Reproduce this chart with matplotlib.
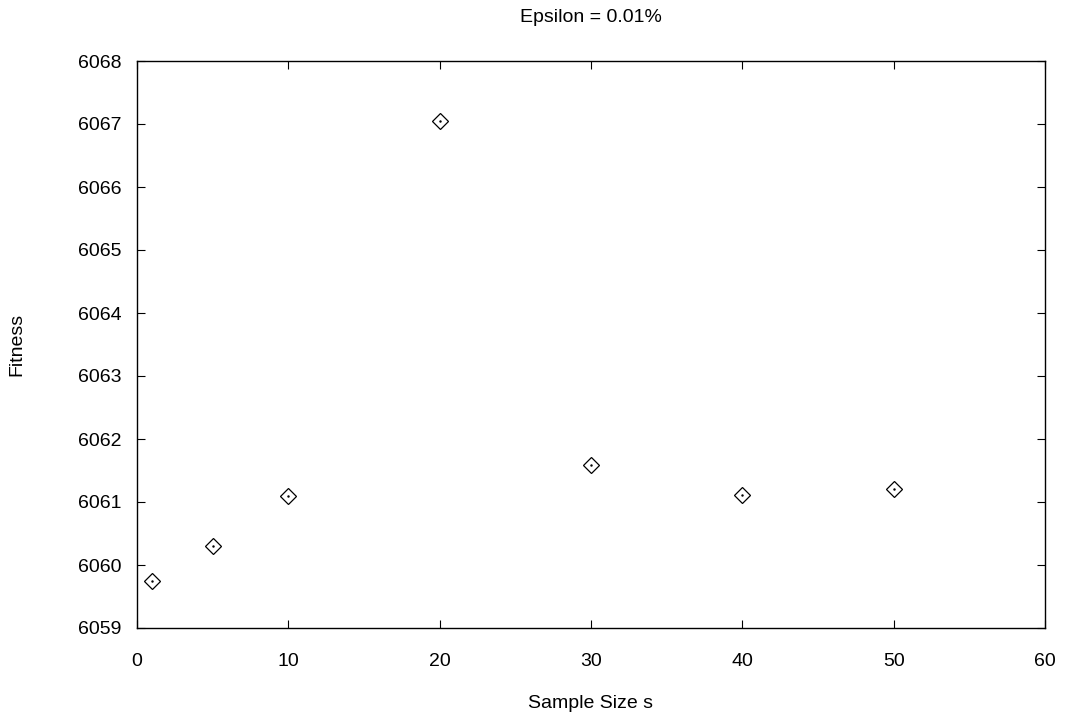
import matplotlib
matplotlib.use('Agg')
import matplotlib.pyplot as plt

plt.rcParams['font.family'] = ['Liberation Sans', 'DejaVu Sans']

sample_size = [1, 5, 10, 20, 30, 40, 50]
fitness = [6059.75, 6060.30, 6061.10, 6067.05, 6061.59, 6061.11, 6061.21]

dpi = 100
fig = plt.figure(figsize=(1066 / dpi, 720 / dpi), dpi=dpi)
ax = fig.add_axes([137 / 1066, 1 - 628 / 720, (1045 - 137) / 1066, (628 - 61) / 720])

ax.plot(sample_size, fitness, linestyle='none', marker='D', markersize=8.5,
        markerfacecolor='white', markeredgecolor='black', markeredgewidth=0.9)
ax.plot(sample_size, fitness, linestyle='none', marker='.', markersize=1.5, color='black')

ax.set_xlim(0, 60)
ax.set_ylim(6059, 6068)
ax.set_xticks(range(0, 61, 10))
ax.set_yticks(range(6059, 6069))
ax.tick_params(direction='in', top=True, right=True, length=6, labelsize=14)
ax.tick_params(axis='x', pad=18)
ax.tick_params(axis='y', pad=11)
ax.ticklabel_format(useOffset=False, style='plain', axis='y')
for s in ax.spines.values():
    s.set_linewidth(1.0)

fig.text(591 / 1066, 1 - 17 / 720, 'Epsilon = 0.01%', ha='center', va='center', fontsize=14)
fig.text(591 / 1066, 1 - 703 / 720, 'Sample Size s', ha='center', va='center', fontsize=14)
fig.text(17 / 1066, 1 - 344 / 720, 'Fitness', ha='center', va='center', rotation=90, fontsize=14)

fig.savefig('out.png', dpi=dpi)
